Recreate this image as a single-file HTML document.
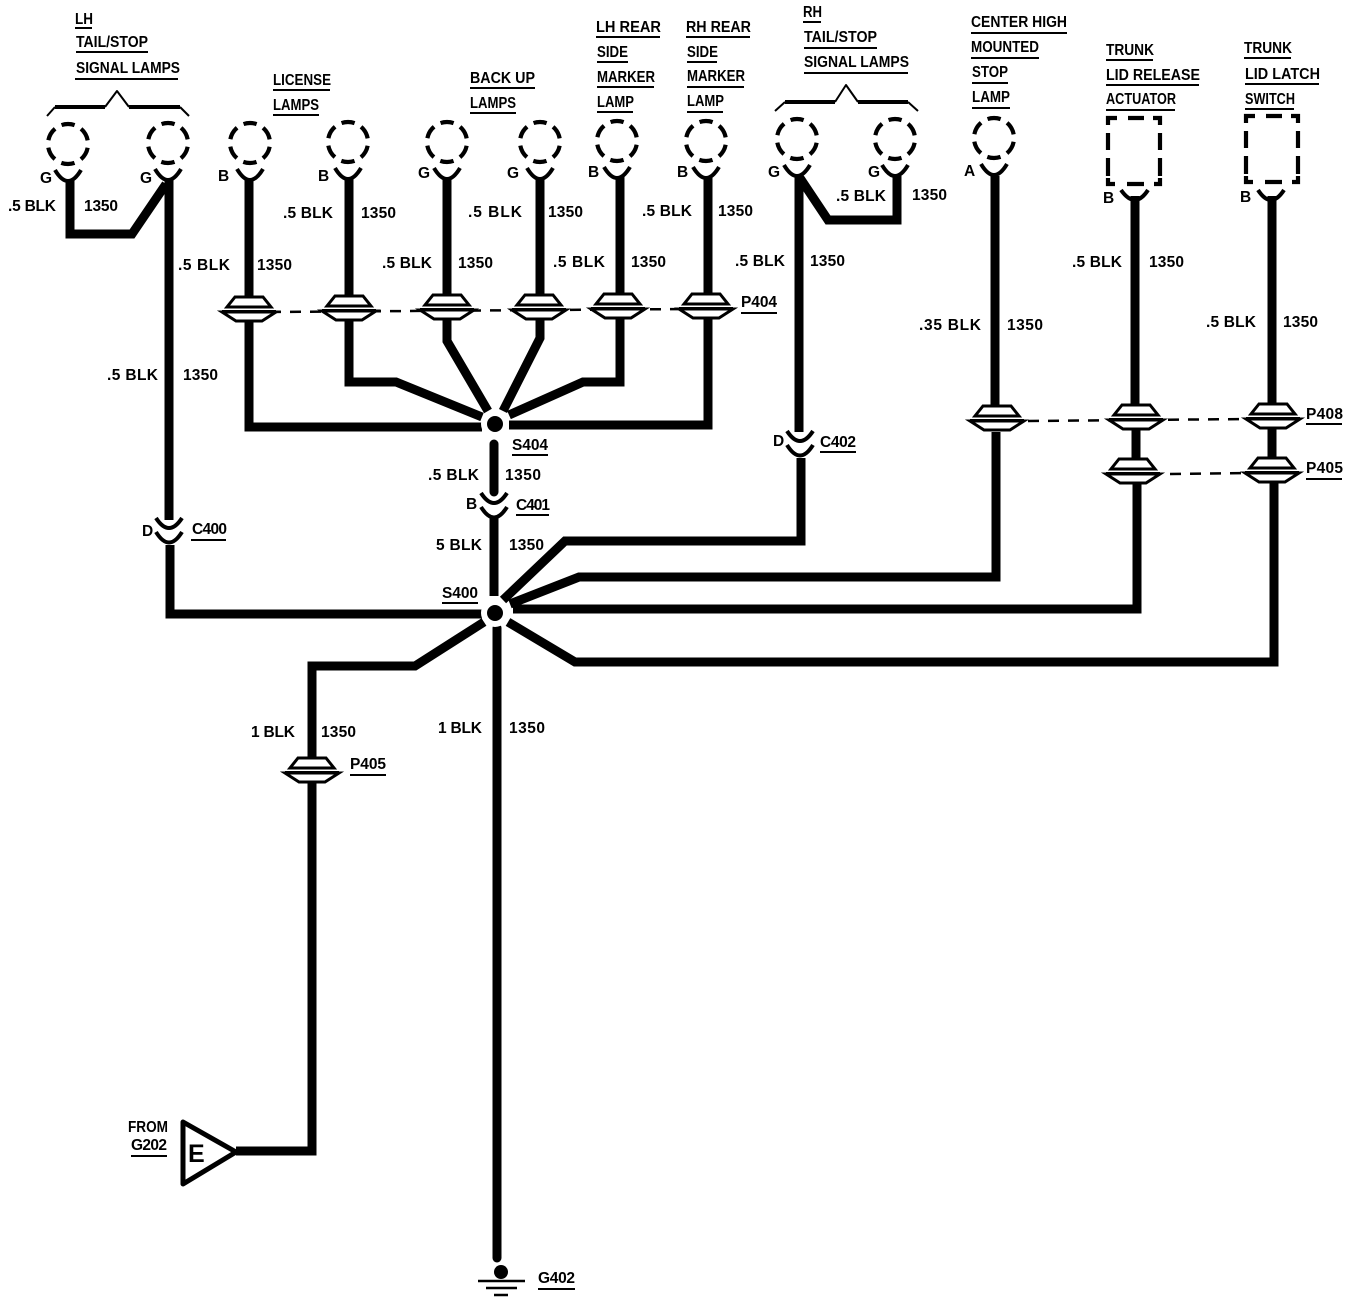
<!DOCTYPE html>
<html><head><meta charset="utf-8">
<style>
html,body{margin:0;padding:0;background:#fff}
svg{display:block}
text{font-family:"Liberation Sans",sans-serif;font-size:15.5px;font-weight:bold;fill:#000}
</style></head><body>
<svg width="1360" height="1304" viewBox="0 0 1360 1304" xmlns="http://www.w3.org/2000/svg">
<defs>
<g id="lamp" fill="none" stroke="#000">
<circle cx="0" cy="0" r="20" stroke-width="4.2" stroke-dasharray="13.5 7.44" stroke-dashoffset="6.75" transform="rotate(-90)"/>
<path d="M-13 26 Q0 48 13 26" stroke-width="4"/>
</g>
<g id="conn">
<path d="M-14 -15 L14 -15 L22 -5 L-22 -5 Z" fill="#fff" stroke="#000" stroke-width="3"/>
<path d="M-27 0 L27 0 L13 9 L-13 9 Z" fill="#fff" stroke="#000" stroke-width="3"/>
<path d="M-27 -1 L27 -1" stroke="#000" stroke-width="2"/>
</g>
<g id="cup" fill="none" stroke="#000" stroke-width="4">
<path d="M-13 -13 Q0 7 13 -13"/>
<path d="M-13 1 Q0 22 13 1"/>
</g>
<path id="box" fill="none" stroke="#000" stroke-width="4.2" d="M0 7V0H9M20 0H36M45 0H52V7M0 15V32M0 40V58M0 60V66H7M19 66H36M46 66H52V60M52 15V32M52 40V58"/>
</defs>
<rect width="1360" height="1304" fill="#fff"/>

<!-- wires -->
<g fill="none" stroke="#000" stroke-width="9" stroke-linejoin="miter">
<path d="M70 180V234H132L166 184"/>
<path d="M169 178V520"/>
<path d="M170 545V614H484"/>
<path d="M249 180V298"/>
<path d="M249 320V427H482"/>
<path d="M349 178V298"/>
<path d="M349 320V382H396L482 417"/>
<path d="M447 178V298"/>
<path d="M447 318V341L488 411"/>
<path d="M540 178V297"/>
<path d="M540 318V338L503 411"/>
<path d="M620 176V297"/>
<path d="M620 318V382H583L509 415"/>
<path d="M708 176V296"/>
<path d="M708 318V425H509"/>
<path d="M799 176V432"/>
<path d="M801 458V541H565L503 600"/>
<path d="M800 178L828 220H897V176"/>
<path d="M995 176V410"/>
<path d="M996 432V577H579L510 604"/>
<path d="M1135 196V408"/>
<path d="M1136 430V462"/>
<path d="M1137 482V609H513"/>
<path d="M1272 196V406"/>
<path d="M1272 428V460"/>
<path d="M1274 482V662H575L508 622"/>
<path d="M484 622L415 666H312V758"/>
<path d="M312 782V1151H236"/>
<path d="M497 628V1258" stroke-linecap="round"/>
<path d="M494 444V492" stroke-linecap="round"/>
<path d="M494 516V596"/>
</g>

<!-- splices -->
<circle cx="495" cy="424" r="14" fill="#fff"/><circle cx="495" cy="424" r="8" fill="#000"/>
<circle cx="495" cy="613" r="14" fill="#fff"/><circle cx="495" cy="613" r="8" fill="#000"/>

<!-- dashed lines -->
<g stroke="#000" stroke-width="2.5" stroke-dasharray="11 9" fill="none">
<path d="M270 312L690 309"/>
<path d="M1028 421L1250 419"/>
<path d="M1170 474L1250 473"/>
</g>

<!-- lamps -->
<use href="#lamp" x="68" y="144"/>
<use href="#lamp" x="168" y="143"/>
<use href="#lamp" x="250" y="143"/>
<use href="#lamp" x="348" y="142"/>
<use href="#lamp" x="447" y="142"/>
<use href="#lamp" x="540" y="142"/>
<use href="#lamp" x="617" y="141"/>
<use href="#lamp" x="706" y="141"/>
<use href="#lamp" x="797" y="139"/>
<use href="#lamp" x="895" y="139"/>
<use href="#lamp" x="994" y="138"/>

<!-- dashed rectangles and cups -->
<use href="#box" x="1108" y="118"/>
<use href="#box" x="1246" y="116"/>
<g fill="none" stroke="#000">
<path d="M1121 190Q1135 210 1148 190" stroke-width="4"/>
<path d="M1258 190Q1271 210 1284 190" stroke-width="4"/>
</g>

<!-- connectors -->
<use href="#conn" x="249" y="312"/>
<use href="#conn" x="349" y="311"/>
<use href="#conn" x="447" y="310"/>
<use href="#conn" x="539" y="310"/>
<use href="#conn" x="618" y="309"/>
<use href="#conn" x="706" y="309"/>
<use href="#conn" x="997" y="421"/>
<use href="#conn" x="1136" y="420"/>
<use href="#conn" x="1273" y="419"/>
<use href="#conn" x="1133" y="474"/>
<use href="#conn" x="1272" y="473"/>
<use href="#conn" x="312" y="773"/>

<use href="#cup" x="169" y="531"/>
<use href="#cup" x="800" y="444"/>
<use href="#cup" x="494" y="506"/>

<!-- braces -->
<g fill="none" stroke="#000" stroke-linejoin="round">
<path d="M47 116L55 107" stroke-width="2"/>
<path d="M55 107H105" stroke-width="4"/>
<path d="M105 107L117 91L129 107" stroke-width="2"/>
<path d="M129 107H180" stroke-width="4"/>
<path d="M180 107L189 116" stroke-width="2"/>
<path d="M775 111L785 102" stroke-width="2"/>
<path d="M785 102H835" stroke-width="4"/>
<path d="M835 102L846 85L858 102" stroke-width="2"/>
<path d="M858 102H908" stroke-width="4"/>
<path d="M908 102L918 111" stroke-width="2"/>
</g>

<!-- underlines -->
<g stroke="#000" stroke-width="2" fill="none">
<path d="M75 28H92M76 52H148M75 79H178"/>
<path d="M273 90H330M273 115H319"/>
<path d="M470 88H535M470 113H516"/>
<path d="M596 37H660M597 62H628M597 87H654M597 112H633"/>
<path d="M686 37H750M687 62H717M687 87H744M687 112H723"/>
<path d="M803 22H821M804 48H877M804 73H908"/>
<path d="M971 33H1067M971 58H1039M972 83H1008M972 108H1010"/>
<path d="M1106 60H1153M1106 85H1199M1106 110H1175"/>
<path d="M1244 58H1291M1245 84H1319M1245 109H1294"/>
<path d="M512 455H548M516 515H549M442 603H478M191 540H226M820 452H856"/>
<path d="M741 313H777M1306 424H1342M1306 479H1342M350 775H386M131 1156H167M538 1289H575"/>
</g>

<!-- header labels -->
<text x="75" y="24" textLength="18" lengthAdjust="spacingAndGlyphs">LH</text>
<text x="76" y="47" textLength="72" lengthAdjust="spacingAndGlyphs">TAIL/STOP</text>
<text x="76" y="73" textLength="104" lengthAdjust="spacingAndGlyphs">SIGNAL LAMPS</text>
<text x="273" y="85" textLength="58" lengthAdjust="spacingAndGlyphs">LICENSE</text>
<text x="273" y="110" textLength="46" lengthAdjust="spacingAndGlyphs">LAMPS</text>
<text x="470" y="83" textLength="65" lengthAdjust="spacingAndGlyphs">BACK UP</text>
<text x="470" y="108" textLength="46" lengthAdjust="spacingAndGlyphs">LAMPS</text>
<text x="596" y="32" textLength="65" lengthAdjust="spacingAndGlyphs">LH REAR</text>
<text x="597" y="57" textLength="31" lengthAdjust="spacingAndGlyphs">SIDE</text>
<text x="597" y="82" textLength="58" lengthAdjust="spacingAndGlyphs">MARKER</text>
<text x="597" y="107" textLength="37" lengthAdjust="spacingAndGlyphs">LAMP</text>
<text x="686" y="32" textLength="65" lengthAdjust="spacingAndGlyphs">RH REAR</text>
<text x="687" y="57" textLength="31" lengthAdjust="spacingAndGlyphs">SIDE</text>
<text x="687" y="81" textLength="58" lengthAdjust="spacingAndGlyphs">MARKER</text>
<text x="687" y="106" textLength="37" lengthAdjust="spacingAndGlyphs">LAMP</text>
<text x="803" y="17" textLength="19" lengthAdjust="spacingAndGlyphs">RH</text>
<text x="804" y="42" textLength="73" lengthAdjust="spacingAndGlyphs">TAIL/STOP</text>
<text x="804" y="67" textLength="105" lengthAdjust="spacingAndGlyphs">SIGNAL LAMPS</text>
<text x="971" y="27" textLength="96" lengthAdjust="spacingAndGlyphs">CENTER HIGH</text>
<text x="971" y="52" textLength="68" lengthAdjust="spacingAndGlyphs">MOUNTED</text>
<text x="972" y="77" textLength="36" lengthAdjust="spacingAndGlyphs">STOP</text>
<text x="972" y="102" textLength="38" lengthAdjust="spacingAndGlyphs">LAMP</text>
<text x="1106" y="55" textLength="48" lengthAdjust="spacingAndGlyphs">TRUNK</text>
<text x="1106" y="80" textLength="94" lengthAdjust="spacingAndGlyphs">LID RELEASE</text>
<text x="1106" y="104" textLength="70" lengthAdjust="spacingAndGlyphs">ACTUATOR</text>
<text x="1244" y="53" textLength="48" lengthAdjust="spacingAndGlyphs">TRUNK</text>
<text x="1245" y="79" textLength="75" lengthAdjust="spacingAndGlyphs">LID LATCH</text>
<text x="1245" y="104" textLength="50" lengthAdjust="spacingAndGlyphs">SWITCH</text>

<!-- pin letters -->
<text x="40" y="183">G</text><text x="140" y="183">G</text>
<text x="218" y="181">B</text><text x="318" y="181">B</text>
<text x="418" y="178">G</text><text x="507" y="178">G</text>
<text x="588" y="177">B</text><text x="677" y="177">B</text>
<text x="768" y="177">G</text><text x="868" y="177">G</text>
<text x="964" y="176">A</text>
<text x="1103" y="203">B</text><text x="1240" y="202">B</text>
<text x="142" y="536">D</text><text x="466" y="509">B</text><text x="773" y="446">D</text>

<!-- wire labels -->
<text x="8" y="211" textLength="48">.5 BLK</text><text x="84" y="211" textLength="34">1350</text>
<text x="178" y="270" textLength="52">.5 BLK</text><text x="257" y="270" textLength="35">1350</text>
<text x="283" y="218" textLength="50">.5 BLK</text><text x="361" y="218" textLength="35">1350</text>
<text x="382" y="268" textLength="50">.5 BLK</text><text x="458" y="268" textLength="35">1350</text>
<text x="468" y="217" textLength="54">.5 BLK</text><text x="548" y="217" textLength="35">1350</text>
<text x="553" y="267" textLength="52">.5 BLK</text><text x="631" y="267" textLength="35">1350</text>
<text x="642" y="216" textLength="50">.5 BLK</text><text x="718" y="216" textLength="35">1350</text>
<text x="735" y="266" textLength="50">.5 BLK</text><text x="810" y="266" textLength="35">1350</text>
<text x="836" y="201" textLength="50">.5 BLK</text><text x="912" y="200" textLength="35">1350</text>
<text x="919" y="330" textLength="62">.35 BLK</text><text x="1007" y="330" textLength="36">1350</text>
<text x="1072" y="267" textLength="50">.5 BLK</text><text x="1149" y="267" textLength="35">1350</text>
<text x="1206" y="327" textLength="50">.5 BLK</text><text x="1283" y="327" textLength="35">1350</text>
<text x="107" y="380" textLength="51">.5 BLK</text><text x="183" y="380" textLength="35">1350</text>
<text x="428" y="480" textLength="51">.5 BLK</text><text x="505" y="480" textLength="36">1350</text>
<text x="436" y="550" textLength="46">5 BLK</text><text x="509" y="550" textLength="35">1350</text>
<text x="251" y="737" textLength="44">1 BLK</text><text x="321" y="737" textLength="35">1350</text>
<text x="438" y="733" textLength="44">1 BLK</text><text x="509" y="733" textLength="36">1350</text>

<!-- component labels -->
<text x="512" y="450" textLength="36">S404</text>
<text x="442" y="598" textLength="36">S400</text>
<text x="516" y="510" textLength="34">C401</text>
<text x="820" y="447" textLength="36">C402</text>
<text x="192" y="534" textLength="35">C400</text>
<text x="741" y="307" textLength="36">P404</text>
<text x="1306" y="419" textLength="37">P408</text>
<text x="1306" y="473" textLength="37">P405</text>
<text x="350" y="769" textLength="36">P405</text>
<text x="538" y="1283" textLength="37">G402</text>
<text x="128" y="1132" textLength="40" lengthAdjust="spacingAndGlyphs">FROM</text>
<text x="131" y="1150" textLength="36">G202</text>

<!-- E triangle -->
<path d="M183 1122L236 1152L183 1184Z" fill="#fff" stroke="#000" stroke-width="5" stroke-linejoin="round"/>
<text x="188" y="1162" style="font-size:25px">E</text>

<!-- ground -->
<circle cx="501" cy="1272" r="7" fill="#000"/>
<path d="M478 1281H525M486 1288H517M494 1295H508" stroke="#000" stroke-width="2.5"/>
</svg>
</body></html>
